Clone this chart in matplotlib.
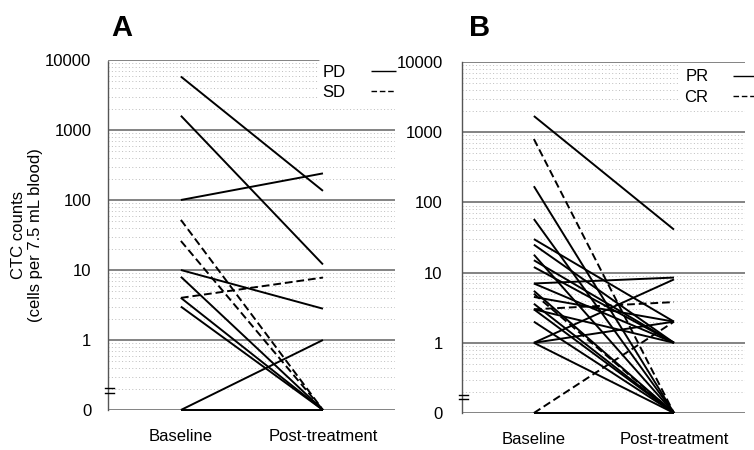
import numpy as np
import matplotlib
matplotlib.use("Agg")
import matplotlib.pyplot as plt
from matplotlib.transforms import blended_transform_factory

plt.rcParams['font.family'] = ['Liberation Sans', 'DejaVu Sans']

# ---- data (CTC counts, cells per 7.5 mL blood) ----
timepoints = ["Baseline", "Post-treatment"]

a_pd_baseline = [5800, 1600, 100, 10, 8, 4, 3, 0, 0]
a_pd_post     = [135, 12, 240, 2.8, 0, 0, 0, 1, 0]
a_sd_baseline = [52, 26, 4]
a_sd_post     = [0, 0, 7.8]

b_pr_baseline = [1700, 170, 58, 30, 25, 18, 15, 12, 7, 7, 5.5, 4.5, 3.6, 3, 3, 2, 1, 1, 1, 0]
b_pr_post     = [41, 0, 0, 2, 1, 0, 1, 1, 8.5, 1, 0, 2, 0, 1, 0, 0, 8, 2, 0, 0]
b_cr_baseline = [800, 3, 0, 5]
b_cr_post     = [0, 3.8, 2, 0]

ytick_values = [0, 1, 10, 100, 1000, 10000]
ytick_labels = ["0", "1", "10", "100", "1000", "10000"]


# broken log scale: 0..1 linear in one decade, log above 1
def fwd(v):
    v = np.asarray(v, dtype=float)
    return np.where(v >= 1, np.log10(np.maximum(v, 1)), v - 1)


def inv(y):
    y = np.asarray(y, dtype=float)
    return np.where(y >= 0, 10 ** y, y + 1)


minor_vals = [k * 10 ** d for d in range(0, 4) for k in range(2, 10)]
minor_vals += [1 + np.log10(k / 10) for k in range(2, 10)]

fig = plt.figure(figsize=(7.54, 4.5), dpi=100)
axA = fig.add_axes([108 / 754, 1 - 410 / 450, 287 / 754, 350 / 450])
axB = fig.add_axes([462 / 754, 1 - 413 / 450, 283 / 754, 351 / 450])


def setup(ax, pad_y, brk):
    ax.set_yscale('function', functions=(fwd, inv))
    ax.set_ylim(0, 10000)
    ax.set_xlim(-0.513, 1.507)
    ax.set_yticks(ytick_values)
    ax.set_yticklabels(ytick_labels)
    ax.set_yticks(minor_vals, minor=True)
    ax.set_xticks([0, 1])
    ax.set_xticklabels(timepoints)
    ax.tick_params(axis='y', which='both', length=0, labelsize=12, pad=pad_y)
    ax.tick_params(axis='x', length=0, labelsize=12, pad=14)
    for s in ['top', 'right', 'bottom']:
        ax.spines[s].set_visible(False)
    ax.spines['left'].set_linestyle((0, (1, 1)))
    ax.spines['left'].set_color('#555555')
    ax.spines['left'].set_linewidth(1.0)
    ax.grid(True, axis='y', which='major', color='#6e6e6e', lw=1.2, ls='-', zorder=0)
    ax.grid(True, axis='y', which='minor', color='#bdbdbd', lw=0.7, ls=(0, (1, 2.5)), zorder=0)
    ax.set_axisbelow(True)
    tr = blended_transform_factory(ax.transAxes, ax.transData)
    for yv in brk:
        ax.plot([-0.012, 0.022], [yv, yv], color='black', lw=1.0,
                transform=tr, clip_on=False, zorder=5)


def draw(ax, base, post, dashed, label):
    first = True
    for b, p in zip(base, post):
        ax.plot([0, 1], [b, p], color='black', lw=1.4,
                ls=(0, (4, 2)) if dashed else '-',
                label=label if first else None, clip_on=False, zorder=3,
                solid_capstyle='butt')
        first = False


setup(axA, 12, [0.31, 0.24])
setup(axB, 14, [0.26, 0.20])

draw(axA, a_pd_baseline, a_pd_post, False, "PD")
draw(axA, a_sd_baseline, a_sd_post, True, "SD")
draw(axB, b_pr_baseline, b_pr_post, False, "PR")
draw(axB, b_cr_baseline, b_cr_post, True, "CR")

for ax, anchor in ((axA, (1.02, 1.0)), (axB, (1.065, 0.993))):
    leg = ax.legend(loc='upper right', bbox_to_anchor=anchor, frameon=True,
                    markerfirst=False, fontsize=12, handlelength=1.5,
                    handletextpad=1.5, labelspacing=0.32, borderpad=0.3,
                    borderaxespad=0.0)
    leg.get_frame().set_facecolor('white')
    leg.get_frame().set_edgecolor('none')
    leg.get_frame().set_alpha(1.0)
    for h in leg.get_lines():
        h.set_linewidth(1.0)

fig.text(27 / 754, 1 - 235 / 450, "CTC counts\n(cells per 7.5 mL blood)",
         rotation=90, ha='center', va='center', fontsize=12, linespacing=1.15)

fig.text(111 / 754, 1 - 36 / 450, "A", fontsize=21, fontweight='bold',
         ha='left', va='baseline')
fig.text(469 / 754, 1 - 36 / 450, "B", fontsize=21, fontweight='bold',
         ha='left', va='baseline')

fig.savefig("out.png", dpi=100)
